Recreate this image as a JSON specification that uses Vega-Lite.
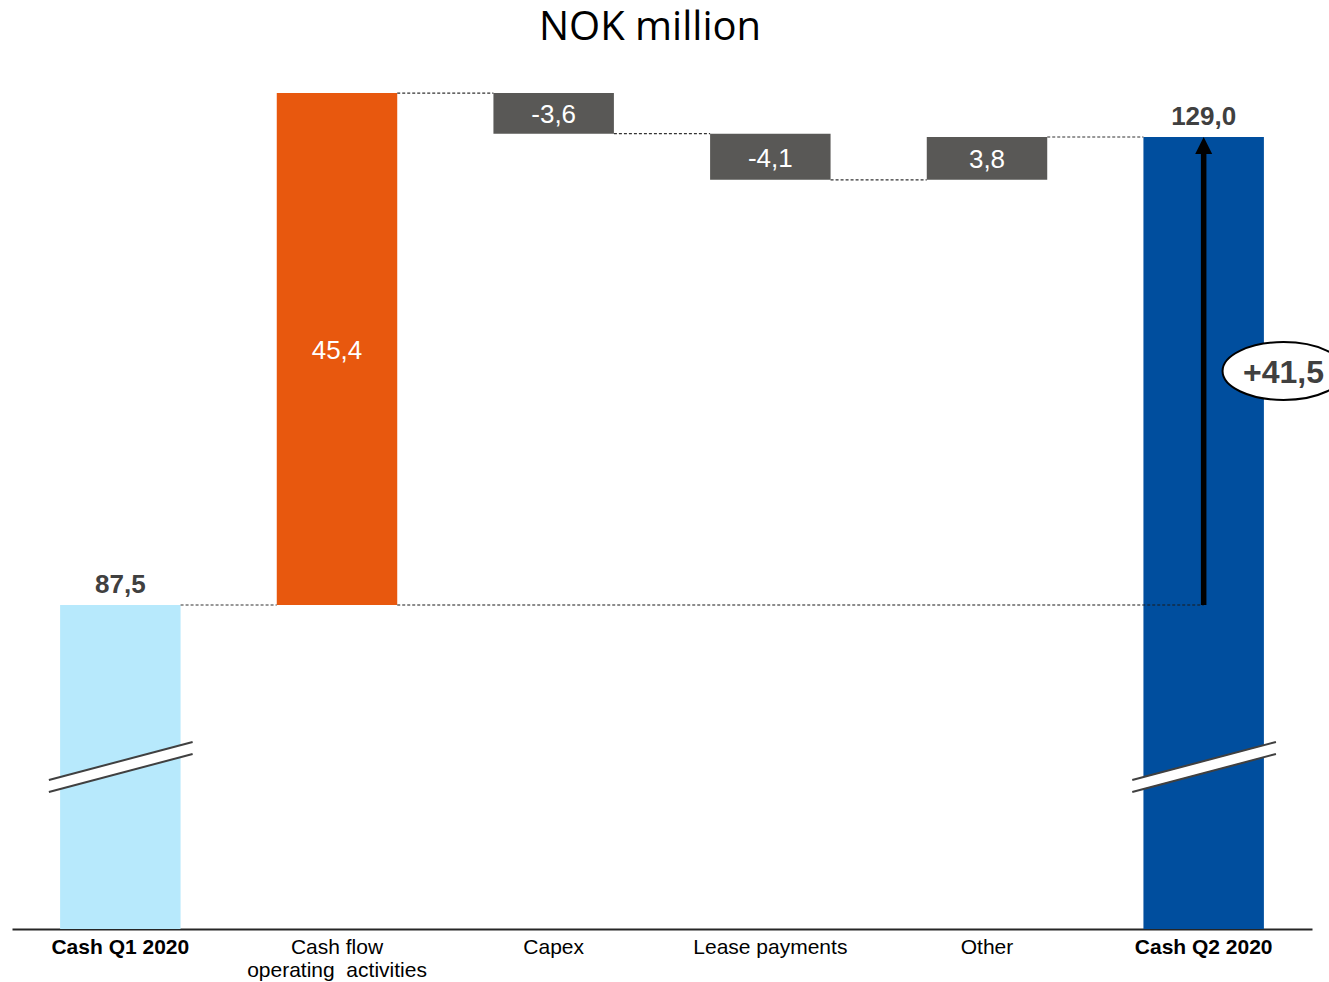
{
  "$schema": "https://vega.github.io/schema/vega-lite/v6.json",
  "width": 1300,
  "height": 869,
  "autosize": {"type": "none"},
  "padding": {"left": 12, "top": 60, "right": 17, "bottom": 53},
  "background": "white",
  "title": {"text": "NOK million", "font": "Open Sans", "fontSize": 40, "fontWeight": "normal", "color": "#000000", "anchor": "middle", "frame": "group", "baseline": "alphabetic", "offset": -20, "dx": -12},
  "config": {"view": {"stroke": null}, "axis": {"grid": false}},
  "datasets": {
    "steps": [
      {"step": "Cash Q1 2020", "start": 0, "end": 87.5, "label": "87,5", "kind": "open"},
      {"step": "Cash flow operating activities", "start": 87.5, "end": 132.9, "label": "45,4", "kind": "inflow"},
      {"step": "Capex", "start": 132.9, "end": 129.3, "label": "-3,6", "kind": "adjustment"},
      {"step": "Lease payments", "start": 129.3, "end": 125.2, "label": "-4,1", "kind": "adjustment"},
      {"step": "Other", "start": 125.2, "end": 129.0, "label": "3,8", "kind": "adjustment"},
      {"step": "Cash Q2 2020", "start": 0, "end": 129.0, "label": "129,0", "kind": "close"}
    ],
    "links": [
      {"from": "Cash Q1 2020", "to": "Cash flow operating activities", "level": 87.5},
      {"from": "Cash flow operating activities", "to": "Capex", "level": 132.9},
      {"from": "Capex", "to": "Lease payments", "level": 129.3},
      {"from": "Lease payments", "to": "Other", "level": 125.2},
      {"from": "Other", "to": "Cash Q2 2020", "level": 129.0}
    ],
    "change": [
      {"step": "Cash Q2 2020", "origin": "Cash flow operating activities", "from": 87.5, "to": 129.0, "label": "+41,5"}
    ],
    "breaks": [
      {"step": "Cash Q1 2020"},
      {"step": "Cash Q2 2020"}
    ]
  },
  "layer": [
    {
      "data": {"name": "steps"},
      "mark": {"type": "bar"},
      "encoding": {
        "x": {
          "field": "step", "type": "nominal", "title": null,
          "scale": {"domain": ["Cash Q1 2020", "Cash flow operating activities", "Capex", "Lease payments", "Other", "Cash Q2 2020"], "paddingInner": 0.444, "paddingOuter": 0.222},
          "axis": {
            "title": null, "orient": "bottom", "domain": true, "domainColor": "#262626", "domainWidth": 2,
            "ticks": false, "labelFont": "Liberation Sans", "labelFontSize": 21, "labelColor": "#000000",
            "labelPadding": 7, "labelLimit": 0, "labelLineHeight": 23, "labelBaseline": "top", "labelAngle": 0,
            "labelOverlap": false,
            "labelFontWeight": {"condition": {"test": "indexof(datum.value, 'Cash Q') == 0", "value": "bold"}, "value": "normal"},
            "labelExpr": "datum.value == 'Cash flow operating activities' ? ['Cash flow', 'operating\u00a0\u00a0activities'] : datum.label"
          }
        },
        "y": {"field": "start", "type": "quantitative", "scale": {"domain": [58.77, 135.83], "clamp": true, "zero": false, "nice": false}, "axis": null},
        "y2": {"field": "end"},
        "color": {"field": "kind", "type": "nominal", "scale": {"domain": ["open", "inflow", "adjustment", "close"], "range": ["#B7E9FC", "#E8580E", "#595856", "#004E9E"]}, "legend": null}
      }
    },
    {
      "data": {"name": "links"},
      "mark": {"type": "rule", "strokeDash": [3, 2], "color": "#333333", "strokeWidth": 1.2},
      "encoding": {
        "x": {"field": "from", "type": "nominal", "bandPosition": 1, "title": null},
        "x2": {"field": "to", "bandPosition": 0},
        "y": {"field": "level", "type": "quantitative", "axis": null}
      }
    },
    {
      "data": {"name": "change"},
      "mark": {"type": "rule", "strokeDash": [3, 2], "color": "#1a1a1a", "strokeWidth": 1.2},
      "encoding": {
        "x": {"field": "origin", "type": "nominal", "bandPosition": 1, "title": null},
        "x2": {"field": "step", "bandPosition": 0.5},
        "y": {"field": "from", "type": "quantitative", "axis": null}
      }
    },
    {
      "data": {"name": "breaks"},
      "mark": {"type": "rule", "color": "#ffffff", "strokeWidth": 11},
      "encoding": {
        "x": {"field": "step", "type": "nominal", "bandPosition": -0.093, "title": null},
        "x2": {"field": "step", "bandPosition": 1.1},
        "y": {"datum": 71.45, "type": "quantitative", "axis": null},
        "y2": {"datum": 74.82}
      }
    },
    {
      "data": {"name": "breaks"},
      "mark": {"type": "rule", "color": "#404040", "strokeWidth": 2, "yOffset": -6, "y2Offset": -6},
      "encoding": {
        "x": {"field": "step", "type": "nominal", "bandPosition": -0.093, "title": null},
        "x2": {"field": "step", "bandPosition": 1.1},
        "y": {"datum": 71.45, "type": "quantitative", "axis": null},
        "y2": {"datum": 74.82}
      }
    },
    {
      "data": {"name": "breaks"},
      "mark": {"type": "rule", "color": "#404040", "strokeWidth": 2, "yOffset": 6, "y2Offset": 6},
      "encoding": {
        "x": {"field": "step", "type": "nominal", "bandPosition": -0.093, "title": null},
        "x2": {"field": "step", "bandPosition": 1.1},
        "y": {"datum": 71.45, "type": "quantitative", "axis": null},
        "y2": {"datum": 74.82}
      }
    },
    {
      "data": {"name": "change"},
      "mark": {"type": "rule", "color": "#000000", "strokeWidth": 5.5, "y2Offset": 12},
      "encoding": {
        "x": {"field": "step", "type": "nominal", "title": null},
        "y": {"field": "from", "type": "quantitative", "axis": null},
        "y2": {"field": "to"}
      }
    },
    {
      "data": {"name": "change"},
      "mark": {"type": "point", "shape": "M0,0L-1,2L1,2Z", "size": 289, "filled": true, "color": "#000000", "opacity": 1, "strokeWidth": 0},
      "encoding": {
        "x": {"field": "step", "type": "nominal", "title": null},
        "y": {"field": "to", "type": "quantitative", "axis": null}
      }
    },
    {
      "data": {"name": "change"},
      "transform": [{"calculate": "(datum.from + datum.to) / 2", "as": "mid"}],
      "mark": {"type": "point", "shape": "M-1,0C-1,-0.262 -0.552,-0.475 0,-0.475C0.552,-0.475 1,-0.262 1,0C1,0.262 0.552,0.475 0,0.475C-0.552,0.475 -1,0.262 -1,0Z", "size": 14884, "filled": true, "fill": "#ffffff", "stroke": "#000000", "strokeWidth": 2, "opacity": 1},
      "encoding": {
        "x": {"field": "step", "type": "nominal", "bandPosition": 1.163, "title": null},
        "y": {"field": "mid", "type": "quantitative", "axis": null}
      }
    },
    {
      "data": {"name": "change"},
      "transform": [{"calculate": "(datum.from + datum.to) / 2", "as": "mid"}],
      "mark": {"type": "text", "font": "Liberation Sans", "fontSize": 32, "fontWeight": "bold", "color": "#404040", "baseline": "middle", "align": "center", "dy": 2},
      "encoding": {
        "x": {"field": "step", "type": "nominal", "bandPosition": 1.163, "title": null},
        "y": {"field": "mid", "type": "quantitative", "axis": null},
        "text": {"field": "label"}
      }
    },
    {
      "data": {"name": "steps"},
      "transform": [{"filter": "datum.kind == 'open' || datum.kind == 'close'"}],
      "mark": {"type": "text", "font": "Liberation Sans", "fontSize": 26, "fontWeight": "bold", "color": "#404040", "baseline": "alphabetic", "align": "center", "dy": -12},
      "encoding": {
        "x": {"field": "step", "type": "nominal", "title": null},
        "y": {"field": "end", "type": "quantitative", "axis": null},
        "text": {"field": "label"}
      }
    },
    {
      "data": {"name": "steps"},
      "transform": [{"filter": "datum.kind == 'inflow' || datum.kind == 'adjustment'"}, {"calculate": "(datum.start + datum.end) / 2", "as": "mid"}],
      "mark": {"type": "text", "font": "Liberation Sans", "fontSize": 26, "fontWeight": "normal", "color": "#ffffff", "baseline": "middle", "align": "center", "dy": 2},
      "encoding": {
        "x": {"field": "step", "type": "nominal", "title": null},
        "y": {"field": "mid", "type": "quantitative", "axis": null},
        "text": {"field": "label"}
      }
    }
  ]
}
